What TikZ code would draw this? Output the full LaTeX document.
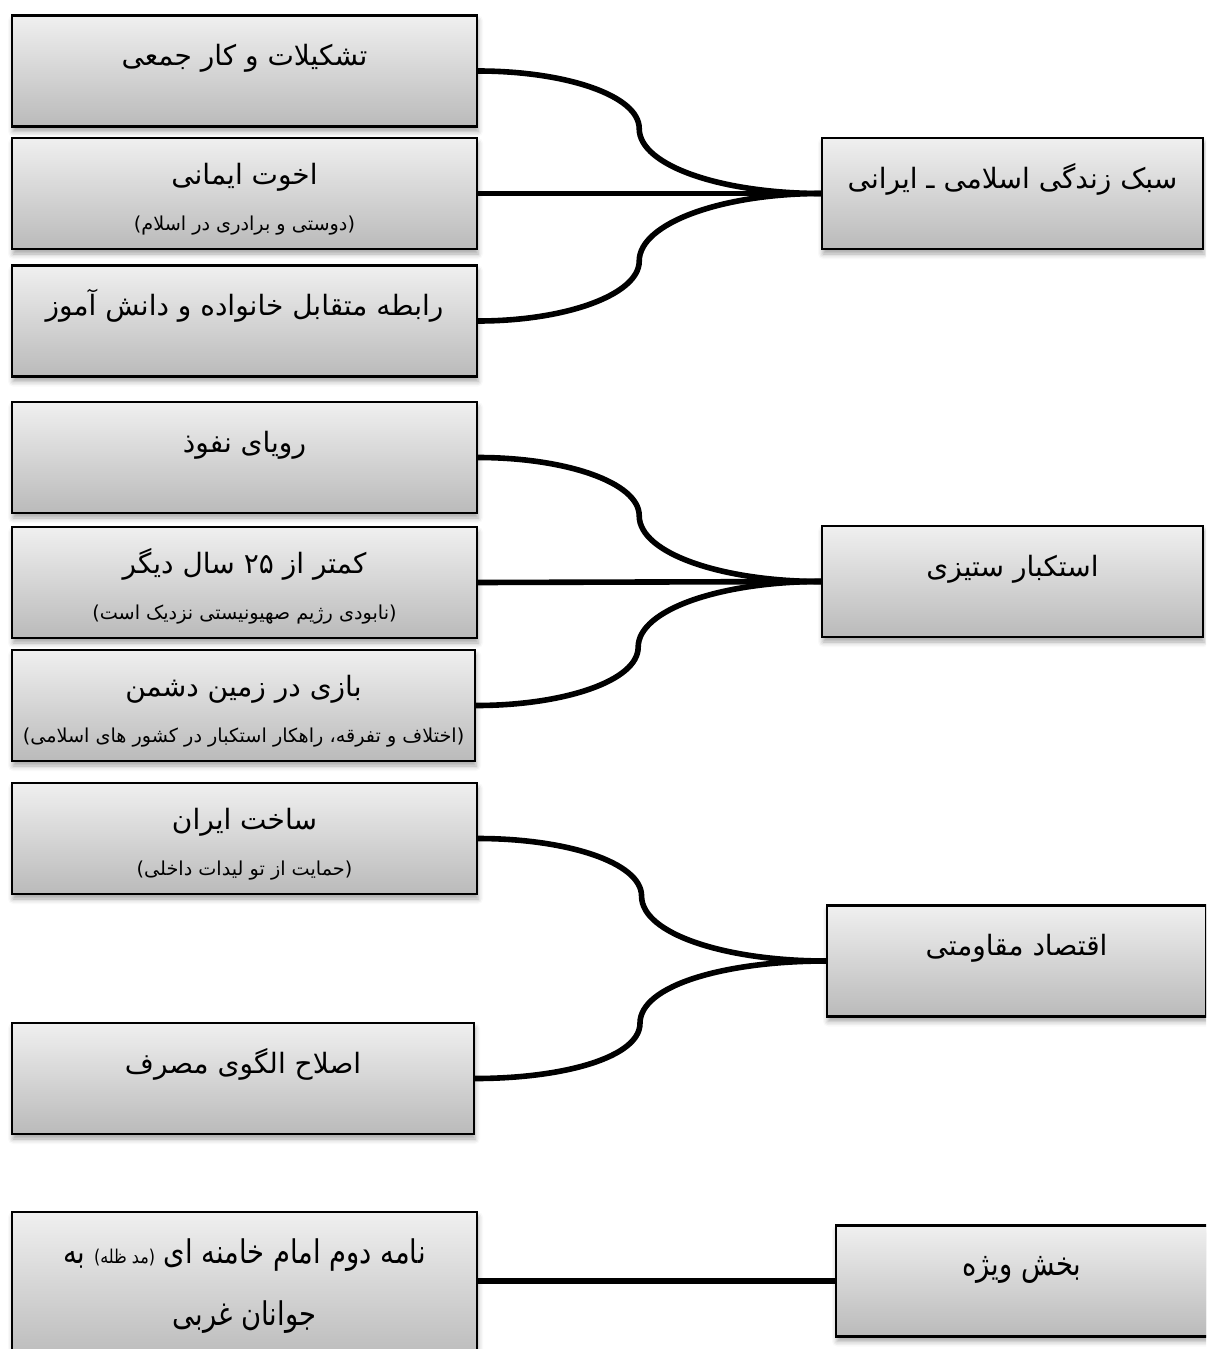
\documentclass[tikz,border=0pt]{standalone}
\usepackage{fontspec}
\usepackage{tikz}
\usetikzlibrary{calc,shadows.blur}
\TeXXeTstate=1
\newfontfamily\fafont[Script=Arabic]{DejaVu Sans}
\newfontfamily\fanarrow[Script=Arabic,FakeStretch=0.84]{DejaVu Sans}

\begin{document}
\begin{tikzpicture}[x=0.5pt, y=-0.5pt, thick]

\tikzstyle{box}=[rectangle, draw=black, line width=1.1pt, top color=black!6, bottom color=black!27,
  minimum width=232.5pt, minimum height=55.5pt, inner sep=0pt, text height=25pt, text depth=30.5pt,
  align=center, font=\fafont\fontsize{14}{17}\selectfont,
  blur shadow={shadow xshift=0.5pt, shadow yshift=-2.5pt, shadow blur radius=2.5pt, shadow opacity=35}]
\tikzstyle{twoline}=[text height=46pt, text depth=9.5pt]
\tikzstyle{hub}=[box, minimum width=190.5pt]
\tikzstyle{link}=[line width=2.8pt, black]
\tikzset{half1/.style={out=0, in=#1, out looseness=1.3, in looseness=0.5},
         half2/.style={out=#1, in=180, out looseness=0.5, in looseness=1.3}}
\newcommand{\subtxt}{\fafont\fontsize{9.6}{11}\selectfont}

\useasboundingbox (0,0) rectangle (1206,1349);
\clip (0,0) rectangle (1206,1349);

% left column
\draw (244.5,71)    node[box] (tashk) {\beginR تشکیلات و کار جمعی\endR};
\draw (244.5,193.5) node[box, twoline] (okhov) {\beginR اخوت ایمانی\endR\\[6pt]{\subtxt\beginR (دوستی و برادری در اسلام)\endR}}
      (244.5,321)   node[box] (rabet) {\beginR رابطه متقابل خانواده و دانش آموز\endR}
      (244.5,457.5) node[box] (royaa) {\beginR رویای نفوذ\endR}
      (244.5,582.5) node[box, twoline] (kamtar) {\beginR کمتر از ۲۵ سال دیگر\endR\\[6pt]{\subtxt\beginR (نابودی رژیم صهیونیستی نزدیک است)\endR}}
      (243.5,705.5) node[box, twoline, minimum width=231.5pt] (bazi) {\beginR بازی در زمین دشمن\endR\\[6pt]{\subtxt\beginR (اختلاف و تفرقه، راهکار استکبار در کشور های اسلامی)\endR}}
      (244.5,838.5) node[box, twoline] (sakht) {\beginR ساخت ایران\endR\\[6pt]{\subtxt\beginR (حمایت از تو لیدات داخلی)\endR}}
      (243,1078.5)  node[box, minimum width=231pt] (eslah) {\beginR اصلاح الگوی مصرف\endR}
      (244.5,1287)  node[box, text height=56.5pt, text depth=18.5pt, font=\fanarrow\fontsize{16.3}{20}\selectfont] (nameh)
        {\beginR نامه دوم امام خامنه ای {\fontsize{9.5}{11}\selectfont (مد ظله)} به\endR\\[11pt]\beginR جوانان غربی\endR};

% right column
\draw (1012.5,193.5) node[hub] (sabk) {\beginR سبک زندگی اسلامی ـ ایرانی\endR}
      (1012.5,581.5) node[hub] (estek) {\beginR استکبار ستیزی\endR}
      (1016.5,961)   node[hub, minimum width=189.5pt] (eqtes) {\beginR اقتصاد مقاومتی\endR}
      (1022,1281)    node[hub, minimum width=186pt, font=\fanarrow\fontsize{16.3}{20}\selectfont] (vijeh) {\beginR بخش ویژه\endR};

% connectors
\draw[link] (tashk.east) to[half1=90] ($(tashk.east)!0.47!(sabk.west)$) to[half2=-90] (sabk.west);
\draw[link] (okhov.east) -- (sabk.west);
\draw[link] (rabet.east) to[half1=-90] ($(rabet.east)!0.47!(sabk.west)$) to[half2=90] (sabk.west);

\draw[link] (royaa.east) to[half1=90] ($(royaa.east)!0.47!(estek.west)$) to[half2=-90] (estek.west);
\draw[link] (kamtar.east) -- (estek.west);
\draw[link] (bazi.east) to[half1=-90] ($(bazi.east)!0.47!(estek.west)$) to[half2=90] (estek.west);

\draw[link] (sakht.east) to[half1=90] ($(sakht.east)!0.47!(eqtes.west)$) to[half2=-90] (eqtes.west);
\draw[link] (eslah.east) to[half1=-90] ($(eslah.east)!0.47!(eqtes.west)$) to[half2=90] (eqtes.west);

\draw[link] (nameh.east |- vijeh.west) -- (vijeh.west);

\end{tikzpicture}
\end{document}
